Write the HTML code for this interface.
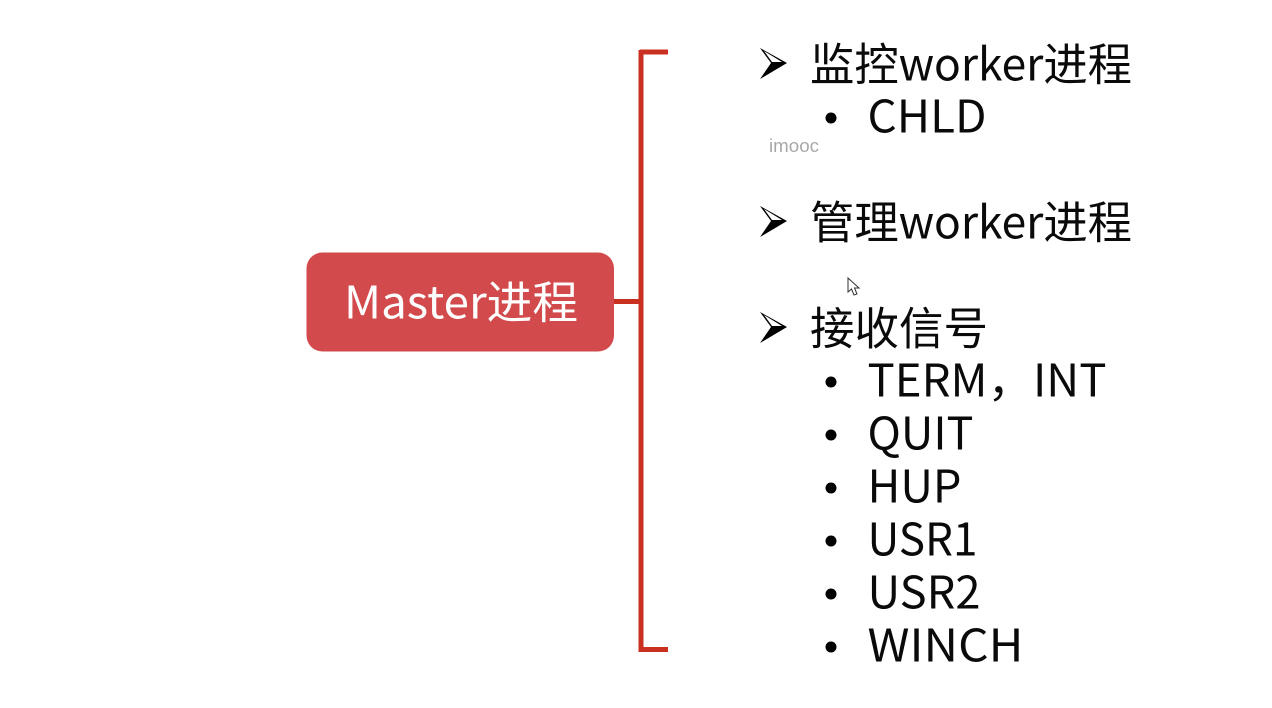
<!DOCTYPE html>
<html lang="zh">
<head>
<meta charset="utf-8">
<style>
html,body{margin:0;padding:0;background:#fff;width:1272px;height:708px;overflow:hidden}
svg{display:block}
text{font-family:"Noto Sans CJK SC","Liberation Sans",sans-serif;fill:#0a0a0a;font-size:45px}
</style>
</head>
<body>
<svg width="1272" height="708" viewBox="0 0 1272 708" xmlns="http://www.w3.org/2000/svg">
<rect width="1272" height="708" fill="#fff"/>
<rect x="306.500" y="252.500" width="307.500" height="99" rx="16" fill="#d34a4d"/>
<text x="344" y="318.500" style="fill:#fff;font-size:45px" textLength="234" lengthAdjust="spacingAndGlyphs">Master进程</text>
<g fill="#c9301f">
<rect x="638.500" y="50" width="5" height="602"/>
<rect x="640" y="49.500" width="28" height="5"/>
<rect x="640" y="647" width="28" height="5"/>
<rect x="614" y="299" width="26" height="5"/>
</g>
<g fill="#000">
<path d="M760 48 L787 63 L760 79 L771 63 Z M764 51 L772 62 L782 62 Z" fill-rule="evenodd"/>
<path d="M760 206 L787 221 L760 237 L771 221 Z M764 209 L772 220 L782 220 Z" fill-rule="evenodd"/>
<path d="M760 312 L787 327 L760 343 L771 327 Z M764 315 L772 326 L782 326 Z" fill-rule="evenodd"/>
</g>
<text x="810" y="80.500" textLength="322" lengthAdjust="spacingAndGlyphs">监控worker进程</text>
<text x="810" y="238.500" textLength="322" lengthAdjust="spacingAndGlyphs">管理worker进程</text>
<text x="810" y="344.500" textLength="178" lengthAdjust="spacingAndGlyphs">接收信号</text>
<g fill="#000">
<circle cx="831" cy="118" r="5.500"/>
<circle cx="831" cy="382" r="5.500"/>
<circle cx="831" cy="435" r="5.500"/>
<circle cx="831" cy="488" r="5.500"/>
<circle cx="831" cy="541" r="5.500"/>
<circle cx="831" cy="594" r="5.500"/>
<circle cx="831" cy="647" r="5.500"/>
</g>
<text x="867.500" y="132.500" textLength="119" lengthAdjust="spacingAndGlyphs">CHLD</text>
<text x="867.500" y="396.500" textLength="239" lengthAdjust="spacingAndGlyphs">TERM，INT</text>
<text x="867.500" y="449.500" textLength="106" lengthAdjust="spacingAndGlyphs">QUIT</text>
<text x="867.500" y="502.500" textLength="94" lengthAdjust="spacingAndGlyphs">HUP</text>
<text x="867.500" y="555.500" textLength="110" lengthAdjust="spacingAndGlyphs">USR1</text>
<text x="867.500" y="608.500" textLength="113" lengthAdjust="spacingAndGlyphs">USR2</text>
<text x="867.500" y="661.500" textLength="156" lengthAdjust="spacingAndGlyphs">WINCH</text>
<text x="769" y="152" style="font-family:'Liberation Sans',sans-serif;font-size:18px;fill:#a8a8a8" textLength="50" lengthAdjust="spacingAndGlyphs">imooc</text>
<path d="M848 278 L848 292 L851.500 289 L854 295 L857 294 L854.500 288 L859 288 Z" fill="#fff" stroke="#333" stroke-width="1"/>
</svg>
</body>
</html>
